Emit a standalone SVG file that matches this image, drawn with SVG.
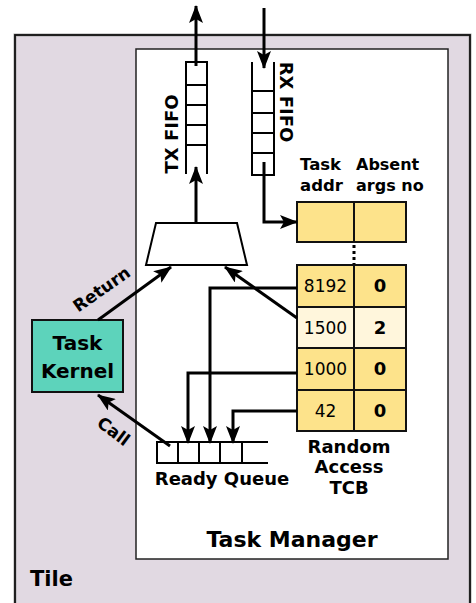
<svg xmlns="http://www.w3.org/2000/svg" width="476" height="603" viewBox="0 0 476 603">
<style>
text{font-family:"DejaVu Sans","Verdana",sans-serif;fill:#000}
.b{font-weight:bold}
.cell{fill:#fde38b;stroke:#111;stroke-width:2}
.lt{fill:#fff6dc}
.ln{fill:none;stroke:#000;stroke-width:3}
.fifo{fill:none;stroke:#000;stroke-width:2}
.arr{fill:none;stroke:#000;stroke-width:3;marker-end:url(#ah)}
</style>
<defs>
<marker id="ah" markerUnits="userSpaceOnUse" markerWidth="18" markerHeight="14" refX="17" refY="7" orient="auto">
<path d="M0,0 L18,7 L0,14 L4,7 z" fill="#000"/>
</marker>
</defs>
<rect width="476" height="603" fill="#fff"/>
<g id="tile">
<rect x="15" y="35" width="455" height="600" fill="#e1d9e2" stroke="#aaa" stroke-width="3"/>
<rect x="15" y="35" width="455" height="600" fill="none" stroke="#111" stroke-width="1.8"/>
<text x="30" y="586" class="b" font-size="21">Tile</text>
</g>
<g id="task-manager">
<rect x="136" y="49" width="312" height="510" fill="#fff" stroke="#222" stroke-width="1.5"/>
<text x="292" y="547" class="b" font-size="22" text-anchor="middle">Task Manager</text>
</g>
<g id="tx-fifo">
<path class="fifo" d="M186,174 V62 H207 V174 M186,85 H207 M186,105 H207 M186,125 H207 M186,145 H207"/>
<text class="b" font-size="18" text-anchor="middle" transform="translate(178,134) rotate(-90)">TX FIFO</text>
</g>
<g id="rx-fifo">
<path class="fifo" d="M252,62 V175 H274 V62 M252,91 H274 M252,113 H274 M252,133 H274 M252,153 H274"/>
<text class="b" font-size="18" text-anchor="middle" transform="translate(280,102) rotate(90)">RX FIFO</text>
</g>
<g id="mux">
<path d="M156,223 H237 L247,265 H146 Z" fill="#fff" stroke="#000" stroke-width="2"/>
</g>
<g id="task-kernel">
<rect x="32" y="320" width="91" height="72" fill="#5dd3bb" stroke="#111" stroke-width="2"/>
<text x="77.5" y="350" class="b" font-size="20" text-anchor="middle">Task</text>
<text x="77.5" y="378" class="b" font-size="20" text-anchor="middle">Kernel</text>
</g>
<g id="tcb">
<text x="300" y="170" class="b" font-size="16.5">Task</text>
<text x="300" y="191" class="b" font-size="16.5">addr</text>
<text x="356" y="170" class="b" font-size="16">Absent</text>
<text x="356" y="191" class="b" font-size="16">args no</text>
<rect class="cell" x="297" y="202" width="57" height="40"/>
<rect class="cell" x="354" y="202" width="52" height="40"/>
<line x1="354" y1="245" x2="354" y2="264" stroke="#000" stroke-width="3" stroke-dasharray="3,3"/>
<rect class="cell" x="297" y="265" width="57" height="42"/>
<rect class="cell" x="354" y="265" width="52" height="42"/>
<rect class="cell lt" x="297" y="307" width="57" height="41"/>
<rect class="cell lt" x="354" y="307" width="52" height="41"/>
<rect class="cell" x="297" y="348" width="57" height="42"/>
<rect class="cell" x="354" y="348" width="52" height="42"/>
<rect class="cell" x="297" y="390" width="57" height="41"/>
<rect class="cell" x="354" y="390" width="52" height="41"/>
<g font-size="17" text-anchor="middle">
<text x="325.5" y="292">8192</text>
<text x="325.5" y="334">1500</text>
<text x="325.5" y="375">1000</text>
<text x="325.5" y="417">42</text>
</g>
<g font-size="18" text-anchor="middle" class="b">
<text x="380" y="292">0</text>
<text x="380" y="334">2</text>
<text x="380" y="375">0</text>
<text x="380" y="417">0</text>
</g>
<g class="b" font-size="18" text-anchor="middle">
<text x="349" y="453">Random</text>
<text x="349" y="473">Access</text>
<text x="349" y="494">TCB</text>
</g>
</g>
<g id="ready-queue">
<path class="fifo" d="M268,442 H157 V463 H268 M178,442 V463 M199,442 V463 M220,442 V463 M242,442 V463"/>
<text x="222" y="485" class="b" font-size="18" text-anchor="middle">Ready Queue</text>
</g>
<g id="connectors">
<path class="arr" d="M196,66 V6"/>
<path class="arr" d="M264,8 V68"/>
<path class="arr" d="M196,223 V167"/>
<path class="arr" d="M264,162 V222 H297"/>
<path class="arr" d="M98,320 L171,267"/>
<path class="arr" d="M297,318 L225,267"/>
<path class="arr" d="M297,288 H210 V443"/>
<path class="arr" d="M297,373 H188 V443"/>
<path class="arr" d="M297,411 H233 V443"/>
<path class="arr" d="M170,446 L98,395"/>
<text class="b" font-size="17" text-anchor="middle" transform="translate(105,294) rotate(-35)">Return</text>
<text class="b" font-size="17" text-anchor="middle" transform="translate(110,436) rotate(37)">Call</text>
</g>
</svg>
